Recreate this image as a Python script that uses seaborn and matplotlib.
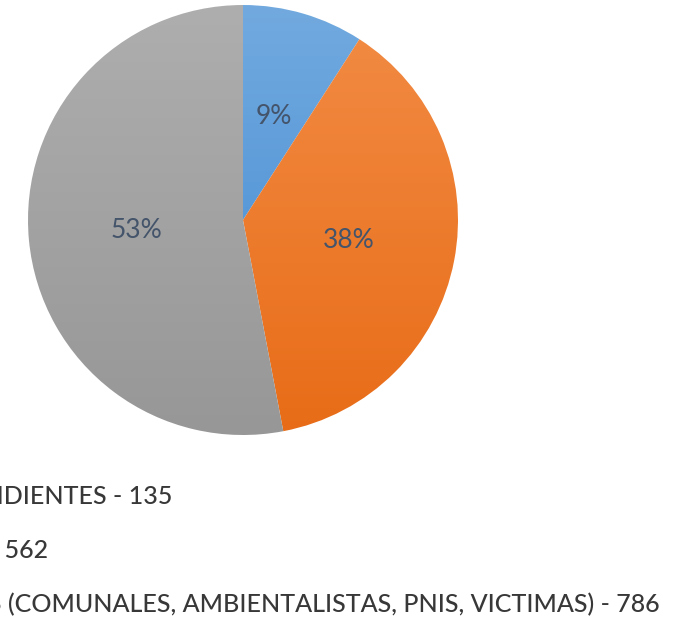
import numpy as np
import matplotlib
matplotlib.use('Agg')
import matplotlib.pyplot as plt
import seaborn as sns

# Data
categories = ['INDEPENDIENTES', 'FARC',
              'OTROS (COMUNALES, AMBIENTALISTAS, PNIS, VICTIMAS)']
counts = [135, 562, 786]
top_colors = ['#72AADF', '#F28C45', '#AEAEAE']
bottom_colors = ['#3F88D2', '#E86C17', '#979797']

sns.set_theme(style='white')
plt.rcParams['font.family'] = ['Lato', 'DejaVu Sans']

fig = plt.figure(figsize=(6.76, 6.23), dpi=100)
fig.patch.set_facecolor('white')

# Pie axes: centre (243, 220) px, radius 215 px
W, H = 676, 623
ax = fig.add_axes([28 / W, (H - 435) / H, 430 / W, 430 / H])

wedges, texts, autotexts = ax.pie(
    counts, startangle=90, counterclock=False, radius=1,
    colors=top_colors, autopct='%1.0f%%', pctdistance=0.5,
    wedgeprops=dict(linewidth=0),
    textprops=dict(color='#44546A', fontsize=19),
)

# Vertical gradient inside each wedge (Office style)
for w, c1, c2 in zip(wedges, top_colors, bottom_colors):
    cmap = matplotlib.colors.LinearSegmentedColormap.from_list('g', [c2, c1])
    grad = np.linspace(0, 1, 256).reshape(-1, 1)
    im = ax.imshow(grad, extent=[-1, 1, -1, 1], origin='lower', cmap=cmap,
                   aspect='auto', zorder=w.get_zorder() + 0.1)
    im.set_clip_path(w)
    w.set_facecolor('none')
for t in autotexts:
    t.set_zorder(5)

ax.set_xlim(-1, 1)
ax.set_ylim(-1, 1)
ax.set_aspect('equal')
ax.axis('off')

# Legend lines (cut off at the left edge in the original)
label_right = [172, 48, 660]
label_y = [497, 551, 605]
for cat, n, xr, yy in zip(categories, counts, label_right, label_y):
    fig.text(xr / W, 1 - yy / H, f'{cat} - {n}', ha='right', va='center',
             fontsize=18, color='#383838', fontweight='medium')

fig.savefig('out.png', dpi=100)
